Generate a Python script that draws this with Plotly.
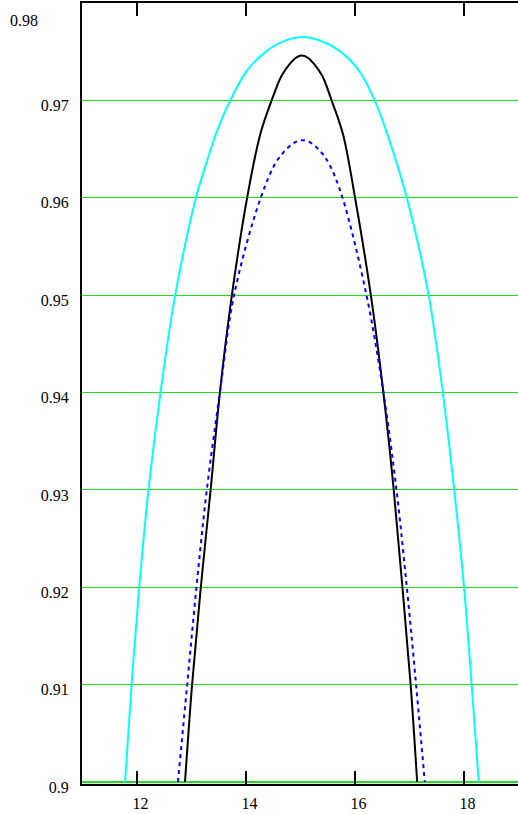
import plotly.graph_objects as go

# ---- data ----
cyan_x = [11.79, 11.91, 12.05, 12.22, 12.44, 12.71, 13.09, 13.20, 13.48, 13.72, 14.02, 14.33, 14.63,
          15.03, 15.43, 15.79, 16.10, 16.37, 16.58, 16.96, 17.36, 17.62, 17.83, 18.01, 18.15, 18.28]
cyan_y = [0.900, 0.910, 0.920, 0.930, 0.940, 0.950, 0.960, 0.9621, 0.9669, 0.970, 0.9730, 0.9748, 0.9759,
          0.9765, 0.9760, 0.9748, 0.9729, 0.970, 0.9669, 0.960, 0.950, 0.940, 0.930, 0.920, 0.910, 0.900]

black_x = [12.89, 13.02, 13.18, 13.36, 13.53, 13.75, 14.03, 14.27, 14.48, 14.66, 14.82, 14.93,
           15.03, 15.14, 15.25, 15.41, 15.58, 15.79, 16.01, 16.30, 16.53, 16.72, 16.88, 17.03, 17.15]
black_y = [0.900, 0.910, 0.920, 0.930, 0.940, 0.950, 0.960, 0.9665, 0.970, 0.9725, 0.9738, 0.9744,
           0.9746, 0.9744, 0.9738, 0.9725, 0.970, 0.9665, 0.960, 0.950, 0.940, 0.930, 0.920, 0.910, 0.900]

blue_x = [12.76, 12.93, 13.10, 13.29, 13.53, 13.79, 14.28, 14.59, 14.88, 15.03, 15.18, 15.40,
          15.55, 15.78, 16.22, 16.53, 16.77, 16.96, 17.13, 17.29]
blue_y = [0.900, 0.910, 0.920, 0.930, 0.940, 0.950, 0.960, 0.9639, 0.9656, 0.9659, 0.9657, 0.9646,
          0.9633, 0.960, 0.950, 0.940, 0.930, 0.920, 0.910, 0.900]

x_ticks = [12, 14, 16, 18]
y_ticks = [0.90, 0.91, 0.92, 0.93, 0.94, 0.95, 0.96, 0.97]
y_tick_text = ["0.9", "0.91", "0.92", "0.93", "0.94", "0.95", "0.96", "0.97"]
y_top_label = "0.98"

FONT = "Liberation Serif, Times New Roman, serif"

fig = go.Figure()
fig.add_trace(go.Scatter(x=cyan_x, y=cyan_y, mode="lines",
                         line=dict(color="#00ffff", width=2, shape="spline", smoothing=1.0),
                         hoverinfo="skip", showlegend=False))
fig.add_trace(go.Scatter(x=black_x, y=black_y, mode="lines",
                         line=dict(color="#000000", width=2, shape="spline", smoothing=1.0),
                         hoverinfo="skip", showlegend=False))
fig.add_trace(go.Scatter(x=blue_x, y=blue_y, mode="lines",
                         line=dict(color="#0000ff", width=2, shape="spline", smoothing=1.0,
                                   dash="4px,4px"),
                         hoverinfo="skip", showlegend=False))

fig.update_layout(
    width=518, height=814,
    margin=dict(l=82, r=0, t=3, b=30),
    paper_bgcolor="white", plot_bgcolor="white",
    font=dict(family=FONT, size=16, color="black"),
    showlegend=False,
    xaxis=dict(range=[11, 19], tickvals=x_ticks, ticktext=[str(v) for v in x_ticks],
               showgrid=False, zeroline=False,
               showline=True, linecolor="black", linewidth=2, mirror="ticks",
               ticks="inside", ticklen=13, tickwidth=2, tickcolor="black",
               ticklabelshift=4, ticklabelstandoff=4, automargin=False),
    yaxis=dict(range=[0.8998, 0.98], tickvals=y_ticks, ticktext=y_tick_text,
               showgrid=True, gridcolor="#22dd22", gridwidth=1, zeroline=False,
               showline=True, linecolor="black", linewidth=2,
               ticks="", ticklabelshift=5, ticklabelstandoff=8, automargin=False),
    annotations=[dict(text=y_top_label, xref="paper", yref="paper",
                      x=-74 / 436, y=1 - 17 / 781, xanchor="left", yanchor="middle",
                      showarrow=False, font=dict(family=FONT, size=16, color="black"))],
)
fig.add_shape(type="line", xref="paper", x0=0, x1=1, yref="y", y0=0.9, y1=0.9,
              line=dict(color="#22dd22", width=2), layer="below")

fig.write_html("out.html", config={"displayModeBar": False},
               post_script="document.body.style.margin='0';document.body.style.overflow='hidden';")
